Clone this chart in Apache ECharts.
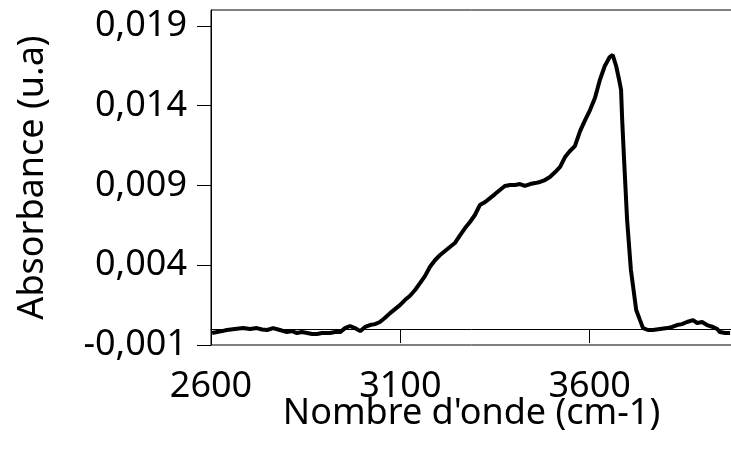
<!DOCTYPE html>
<html>
<head>
<meta charset="utf-8">
<script src="https://cdn.jsdelivr.net/npm/echarts@6/dist/echarts.min.js"></script>
<style>
  html, body { margin: 0; padding: 0; background: #fff; }
  #chart { width: 731px; height: 452px; }
</style>
</head>
<body>
<div id="chart"></div>
<script>
// wavenumber (cm-1) and absorbance
const wavenumber = [
  2603, 2616, 2629, 2642, 2663, 2685, 2703, 2721, 2735, 2748,
  2764, 2782, 2801, 2814, 2827, 2840, 2854, 2867, 2880, 2893,
  2914, 2928, 2941, 2954, 2967, 2980, 2994, 3007, 3020, 3033,
  3046, 3059, 3073, 3086, 3099, 3112, 3125, 3139, 3152, 3165,
  3178, 3192, 3205, 3218, 3231, 3244, 3258, 3271, 3284, 3297,
  3310, 3324, 3337, 3350, 3363, 3376, 3390, 3403, 3416, 3429,
  3443, 3456, 3469, 3482, 3495, 3509, 3522, 3535, 3548, 3561,
  3575, 3588, 3601, 3614, 3627, 3640, 3653, 3661, 3670, 3678,
  3683, 3686, 3691, 3699, 3709, 3723, 3733, 3741, 3754, 3767,
  3786, 3805, 3818, 3831, 3844, 3857, 3873, 3884, 3897, 3910,
  3926, 3937, 3944, 3958, 3971
]
const absorbance = [
  -0.00025, -0.00019, -0.00013, -0.00006, 0.00000, 0.00006, 0.00000, 0.00006, -0.00003, -0.00006,
  0.00006, -0.00006, -0.00019, -0.00013, -0.00025, -0.00019, -0.00025, -0.00031, -0.00031, -0.00025,
  -0.00025, -0.00019, -0.00019, 0.00006, 0.00019, 0.00006, -0.00013, 0.00013, 0.00025, 0.00031,
  0.00044, 0.00069, 0.00100, 0.00125, 0.00150, 0.00182, 0.00207, 0.00245, 0.00288, 0.00332,
  0.00389, 0.00433, 0.00464, 0.00489, 0.00514, 0.00539, 0.00589, 0.00633, 0.00671, 0.00715,
  0.00777, 0.00796, 0.00821, 0.00846, 0.00872, 0.00897, 0.00903, 0.00903, 0.00909, 0.00897,
  0.00909, 0.00915, 0.00922, 0.00934, 0.00953, 0.00984, 0.01016, 0.01078, 0.01116, 0.01147,
  0.01242, 0.01310, 0.01373, 0.01448, 0.01561, 0.01649, 0.01705, 0.01718, 0.01649, 0.01561,
  0.01499, 0.01310, 0.01060, 0.00683, 0.00370, 0.00119, 0.00056, 0.00006, -0.00006, -0.00006,
  0.00000, 0.00006, 0.00013, 0.00025, 0.00031, 0.00044, 0.00056, 0.00038, 0.00044, 0.00025,
  0.00013, 0.00000, -0.00019, -0.00025, -0.00025
]

const xTicks = [2600, 3100, 3600]
const yTicks = [-0.001, 0.004, 0.009, 0.014, 0.019]

const font = 'Noto Sans'

const chart = echarts.init(document.getElementById('chart'))

chart.setOption({
  backgroundColor: '#fff',
  animation: false,
  grid: {
    left: 211,
    right: -1,
    top: 10,
    bottom: 107,
    outerBoundsMode: 'none',
    show: true,
    borderColor: '#000',
    borderWidth: 1
  },
  xAxis: {
    type: 'value',
    min: 2600,
    max: 3976,
    name: "Nombre d'onde (cm-1)",
    nameLocation: 'middle',
    nameGap: 51,
    nameMoveOverlap: false,
    nameTextStyle: { fontFamily: font, fontSize: 36, color: '#000' },
    axisLine: { onZero: true, lineStyle: { color: '#000', width: 1 } },
    axisTick: { customValues: xTicks, length: 14, lineStyle: { color: '#000' } },
    axisLabel: {
      customValues: xTicks,
      margin: 24,
      fontFamily: font,
      fontSize: 36,
      color: '#000',
      formatter: v => String(v)
    },
    splitLine: { show: false }
  },
  yAxis: {
    type: 'value',
    min: -0.001,
    max: 0.020,
    name: 'Absorbance (u.a)',
    nameLocation: 'middle',
    nameGap: 160,
    nameMoveOverlap: false,
    nameTextStyle: { fontFamily: font, fontSize: 36, color: '#000' },
    axisLine: { show: true, lineStyle: { color: '#000', width: 1 } },
    axisTick: { customValues: yTicks, length: 14, lineStyle: { color: '#000' } },
    axisLabel: {
      customValues: yTicks,
      margin: 24,
      fontFamily: font,
      fontSize: 36,
      color: '#000',
      formatter: v => v.toFixed(3).replace('.', ',')
    },
    splitLine: { show: false }
  },
  series: [{
    type: 'line',
    data: wavenumber.map((w, i) => [w, absorbance[i]]),
    showSymbol: false,
    lineStyle: { color: '#000', width: 4 }
  }]
})
</script>
</body>
</html>
